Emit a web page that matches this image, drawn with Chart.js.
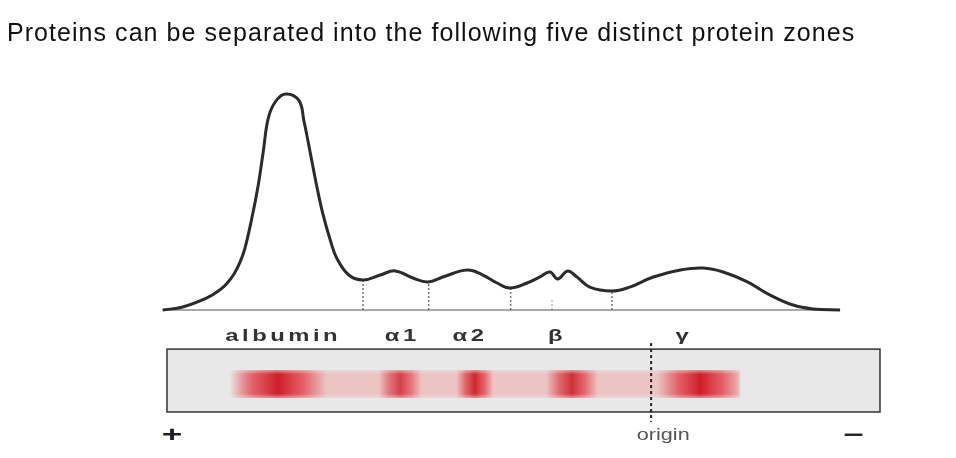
<!DOCTYPE html>
<html>
<head>
<meta charset="utf-8">
<script src="https://cdn.jsdelivr.net/npm/chart.js@4/dist/chart.umd.min.js"></script>
<style>
  body { margin: 0; background: #fff; }
  #wrap { position: relative; width: 956px; height: 458px; }
  #grafico { position: absolute; left: 0; top: 0; }
  #titulo {
    position: absolute; left: 7px; top: 18px;
    font-family: "Liberation Sans", Arial, sans-serif;
    font-size: 25px; letter-spacing: 1.05px; color: #111; white-space: nowrap;
  }
</style>
</head>
<body>
<div id="wrap">
  <canvas id="grafico" width="956" height="458"></canvas>
  <div id="titulo">Proteins can be separated into the following five distinct protein zones</div>
</div>
<script>
// eixo x: posição ao longo da fita (0 = borda esquerda, 100 = borda direita)
// eixo y: densidade relativa (0 = linha de base, 100 = pico da albumina)
const curvaX = [-0.6, 2.2, 5.6, 7.4, 8.4, 9.4, 10.2, 10.9, 11.9, 12.8, 13.5, 14.2, 15.2, 16.6,
  18.5, 19.2, 20.1, 21.0, 21.9, 22.9, 23.8, 25.5, 27.5, 29.9, 32.0, 34.5, 36.6, 38.7, 42.1, 44.3,
  46.3, 48.1, 50.5, 52.3, 53.7, 54.8, 56.2, 57.5, 59.3, 62.4, 64.9, 68.2, 72.0, 75.2, 78.0, 81.4,
  84.6, 87.8, 90.6, 94.4];
const curvaY = [0, 1.4, 5.6, 9.3, 12.3, 16.7, 21.8, 28.2, 42.5, 57.9, 73.3, 88.7, 96.4, 100,
  97.0, 87.6, 72.7, 57.4, 44.0, 32.4, 24.1, 16.2, 13.9, 16.2, 18.1, 14.8, 13.0, 15.3, 18.5, 16.2,
  12.5, 10.2, 12.5, 15.3, 17.6, 14.4, 18.1, 15.3, 10.6, 8.8, 10.6, 15.3, 18.5, 19.4, 17.6, 13.0,
  6.9, 2.3, 0.5, 0];

const divisoesX = [27.5, 36.7, 48.2, 54.0, 62.4];
const divisoesY = [13.9, 13.0, 10.2, 5.0, 8.8];

const zonas = ['albumin', 'α1', 'α2', 'β', 'γ'];
const zonasX = [16.3, 33.0, 42.5, 54.7, 72.5];

const bandasCentro = [15.6, 32.7, 43.2, 56.8, 74.8];
const bandasLargura = [6.8, 3.0, 2.6, 3.6, 6.0];
const bandasIntensidade = [1.0, 0.8, 0.95, 0.9, 1.0];

const origemX = 67.9;
const origemY = [-15.3, -51.9];

const fitaX = [0, 100];
const fitaY = [-18.1, -47.2];
const pistaX = [8.8, 80.4];
const pistaY = [-27.8, -40.7];

const datasets = [];
datasets.push({
  data: curvaX.map((v, i) => ({ x: v, y: curvaY[i] })),
  borderColor: '#2b2b2b', borderWidth: 3, pointRadius: 0,
  tension: 0.4
});
datasets.push({
  data: [{ x: curvaX[0], y: 0 }, { x: curvaX[curvaX.length - 1], y: 0 }],
  borderColor: '#555', borderWidth: 1.2, pointRadius: 0
});
divisoesX.forEach((d, i) => {
  datasets.push({
    data: [{ x: d, y: 0 }, { x: d, y: divisoesY[i] }],
    borderColor: i === 3 ? '#bbb' : '#777', borderWidth: 1.5, borderDash: [2, 2], pointRadius: 0
  });
});
datasets.push({
  data: [{ x: origemX, y: origemY[0] }, { x: origemX, y: origemY[1] }],
  borderColor: '#222', borderWidth: 2, borderDash: [3, 3], pointRadius: 0
});

const fitaPlugin = {
  id: 'fita',
  beforeDatasetsDraw(chart) {
    const { ctx, scales: { x, y } } = chart;
    const fx0 = x.getPixelForValue(fitaX[0]), fx1 = x.getPixelForValue(fitaX[1]);
    const fy0 = y.getPixelForValue(fitaY[0]), fy1 = y.getPixelForValue(fitaY[1]);
    ctx.save();
    ctx.fillStyle = '#e8e8e8';
    ctx.fillRect(fx0, fy0, fx1 - fx0, fy1 - fy0);

    // pista rosada
    const px0 = x.getPixelForValue(pistaX[0]), px1 = x.getPixelForValue(pistaX[1]);
    const py0 = y.getPixelForValue(pistaY[0]), py1 = y.getPixelForValue(pistaY[1]);
    const gp = ctx.createLinearGradient(px0, 0, px1, 0);
    gp.addColorStop(0, 'rgba(236,196,196,0)');
    gp.addColorStop(0.04, 'rgba(236,196,196,1)');
    gp.addColorStop(0.99, 'rgba(236,196,196,1)');
    gp.addColorStop(1, 'rgba(236,196,196,0.3)');
    ctx.fillStyle = gp;
    ctx.fillRect(px0, py0, px1 - px0, py1 - py0);

    ctx.beginPath();
    ctx.rect(px0, py0, px1 - px0, py1 - py0);
    ctx.clip();
    bandasCentro.forEach((c, i) => {
      const a = x.getPixelForValue(c - bandasLargura[i]);
      const b = x.getPixelForValue(c + bandasLargura[i]);
      const k = bandasIntensidade[i];
      const g = ctx.createLinearGradient(a, 0, b, 0);
      g.addColorStop(0, 'rgba(220,50,60,0)');
      g.addColorStop(0.25, `rgba(222,50,60,${0.7 * k})`);
      g.addColorStop(0.5, `rgba(205,30,40,${k})`);
      g.addColorStop(0.75, `rgba(222,50,60,${0.7 * k})`);
      g.addColorStop(1, 'rgba(220,50,60,0)');
      ctx.fillStyle = g;
      ctx.fillRect(a, py0, b - a, py1 - py0);
    });
    // bordas superior e inferior suaves
    const gv = ctx.createLinearGradient(0, py0, 0, py1);
    gv.addColorStop(0, 'rgba(232,232,232,0.55)');
    gv.addColorStop(0.15, 'rgba(232,232,232,0)');
    gv.addColorStop(0.85, 'rgba(232,232,232,0)');
    gv.addColorStop(1, 'rgba(232,232,232,0.55)');
    ctx.fillStyle = gv;
    ctx.fillRect(px0, py0, px1 - px0, py1 - py0);
    ctx.restore();

    ctx.save();
    ctx.strokeStyle = '#333';
    ctx.lineWidth = 1.5;
    ctx.strokeRect(fx0, fy0, fx1 - fx0, fy1 - fy0);
    ctx.restore();
  },
  afterDraw(chart) {
    const { ctx, scales: { x, y } } = chart;
    ctx.save();
    ctx.fillStyle = '#333';
    ctx.font = 'bold 17px "Liberation Sans", Arial, sans-serif';
    ctx.textAlign = 'center';
    ctx.textBaseline = 'alphabetic';
    ctx.letterSpacing = '2.5px';
    zonas.forEach((z, i) => {
      ctx.save();
      ctx.translate(x.getPixelForValue(zonasX[i]), y.getPixelForValue(-14.4));
      ctx.scale(1.4, 1);
      ctx.fillText(z, 0, 0);
      ctx.restore();
    });
    ctx.letterSpacing = '0px';

    ctx.fillStyle = '#555';
    ctx.font = '16px "Liberation Sans", Arial, sans-serif';
    ctx.save();
    ctx.translate(x.getPixelForValue(69.6), y.getPixelForValue(-60.2));
    ctx.scale(1.35, 1);
    ctx.fillText('origin', 0, 0);
    ctx.restore();

    ctx.fillStyle = '#1f1f2a';
    ctx.font = 'bold 22px "Liberation Sans", Arial, sans-serif';
    ctx.textBaseline = 'middle';
    ctx.save();
    ctx.translate(x.getPixelForValue(0.7), y.getPixelForValue(-58.3));
    ctx.scale(1.6, 1);
    ctx.fillText('+', 0, 0);
    ctx.restore();
    ctx.save();
    ctx.translate(x.getPixelForValue(96.3), y.getPixelForValue(-58.3));
    ctx.scale(1.6, 1);
    ctx.fillText('−', 0, 0);
    ctx.restore();
    ctx.restore();
  }
};

new Chart(document.getElementById('grafico').getContext('2d'), {
  type: 'line',
  data: { datasets: datasets },
  options: {
    responsive: false,
    animation: false,
    devicePixelRatio: 1,
    layout: { padding: 0 },
    scales: {
      x: { type: 'linear', min: -23.42, max: 110.66, display: false },
      y: { min: -68.5, max: 143.5, display: false }
    },
    plugins: { legend: { display: false }, tooltip: { enabled: false } }
  },
  plugins: [fitaPlugin]
});
</script>
</body>
</html>
